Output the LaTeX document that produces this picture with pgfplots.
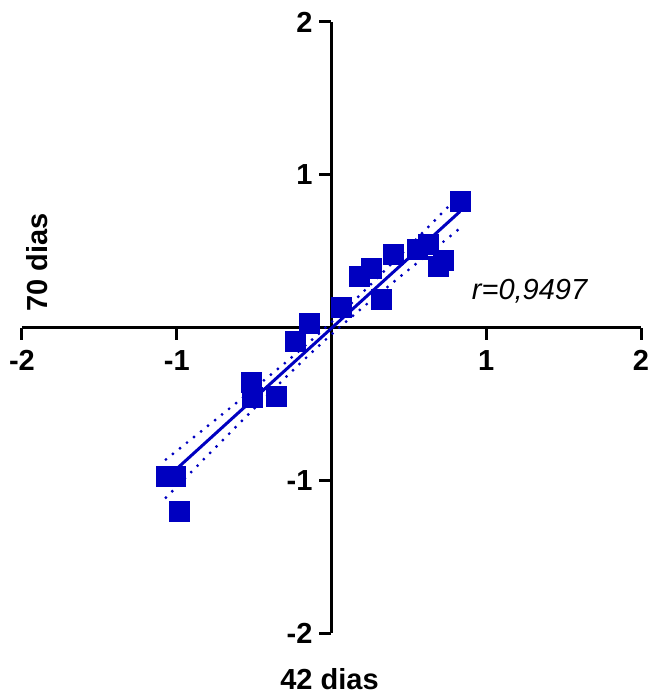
\documentclass[border=0pt]{standalone}
\usepackage{fontspec}
\setmainfont{Liberation Sans}
\usepackage{pgfplots}
\pgfplotsset{compat=1.18}
\definecolor{gpblue}{RGB}{0,0,192}
\begin{document}
\begin{tikzpicture}
\begin{axis}[
  scale only axis, width=309.5pt, height=305.5pt,
  xmin=-2, xmax=2, ymin=-2, ymax=2,
  axis lines=middle,
  axis line style={-, line width=1.5pt, black},
  every inner x axis line/.append style={-},
  every inner y axis line/.append style={-},
  xtick={-2,-1,1,2}, xticklabels={-2,-1,1,2},
  ytick={-2,-1,1,2}, yticklabels={-2,-1,1,2},
  tick align=outside,
  major tick length=6pt,
  tick style={line width=1.5pt, black},
  tick label style={font=\bfseries\fontsize{14.5}{16}\selectfont},
  xticklabel style={yshift=-2pt},
  clip=false,
]
\path (rel axis cs:-0.0355,-0.1047) rectangle (rel axis cs:1.0129,1.036);
% confidence bands
\addplot[gpblue, line width=1.6pt, dash pattern=on 0pt off 4.5pt, line cap=round, smooth] coordinates {
 (-1.07,-0.864) (-0.8,-0.645) (-0.5,-0.399) (-0.25,-0.189) (-0.05,-0.011) (0.15,0.179) (0.4,0.429) (0.6,0.632) (0.83,0.869)};
\addplot[gpblue, line width=1.6pt, dash pattern=on 0pt off 4.5pt, line cap=round, smooth] coordinates {
 (-1.07,-1.114) (-0.8,-0.837) (-0.5,-0.531) (-0.25,-0.281) (-0.05,-0.091) (0.15,0.087) (0.4,0.297) (0.6,0.461) (0.83,0.649)};
% regression line
\addplot[gpblue, line width=1.5pt] coordinates {(-1.07,-0.989) (0.83,0.759)};
% data
\addplot[only marks, mark=square*, mark size=5pt, gpblue, mark options={fill=gpblue, draw=gpblue}] coordinates {
 (0.832,0.827) (-1.069,-0.973) (-1.011,-0.973) (-0.983,-1.203)
 (-0.519,-0.358) (-0.508,-0.46) (-0.358,-0.45) (-0.233,-0.09)
 (-0.142,0.03) (0.063,0.129) (0.181,0.336) (0.257,0.39)
 (0.321,0.183) (0.40,0.478) (0.558,0.51) (0.623,0.543)
 (0.69,0.40) (0.72,0.44)};
\node[rotate=90, font=\bfseries\fontsize{14.5}{16}\selectfont] at (axis cs:-1.9,0.425) {70 dias};
\node[font=\bfseries\fontsize{14.5}{16}\selectfont] at (axis cs:-0.013,-2.30) {42 dias};
\node[font=\itshape\fontsize{14.5}{16}\selectfont] at (axis cs:1.28,0.236) {r=0,9497};
\end{axis}
\end{tikzpicture}
\end{document}
